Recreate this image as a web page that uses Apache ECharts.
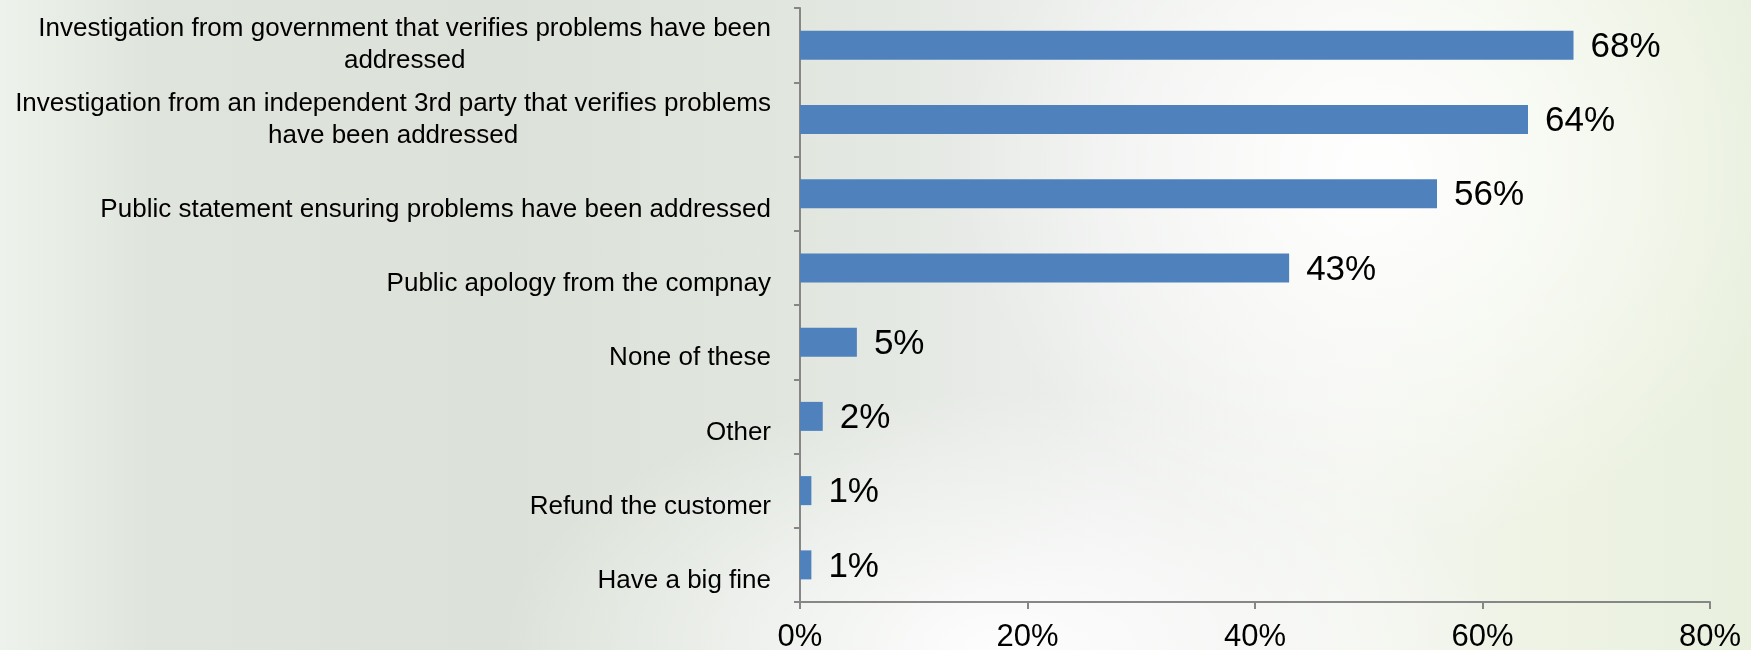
<!DOCTYPE html>
<html>
<head>
<meta charset="utf-8">
<script src="https://cdn.jsdelivr.net/npm/echarts@6/dist/echarts.min.js"></script>
<style>
html,body{margin:0;padding:0;}
#wrap{position:relative;width:1751px;height:650px;overflow:hidden;
background:
 radial-gradient(ellipse 420px 380px at 1380px 170px, rgba(255,255,255,0.95), rgba(255,255,255,0) 100%),
 radial-gradient(ellipse 500px 260px at 1000px 650px, rgba(255,255,255,0.9), rgba(255,255,255,0) 100%),
 linear-gradient(90deg, #eef2ec 0px, #dfe5dc 150px, #dce2d9 500px, #e1e6df 800px, #eceeec 1100px, #f3f5f0 1350px, #eef3e4 1550px, #e9f0de 1751px);
}
#chart{width:1751px;height:650px;}
</style>
</head>
<body>
<div id="wrap"><div id="chart"></div></div>
<script>
const categories = [
  "Investigation from government that verifies problems have been\naddressed",
  "Investigation from an independent 3rd party that verifies problems\nhave been addressed",
  "Public statement ensuring problems have been addressed",
  "Public apology from the compnay",
  "None of these",
  "Other",
  "Refund the customer",
  "Have a big fine"
];
const values = [68, 64, 56, 43, 5, 2, 1, 1];
const xTicks = [0, 20, 40, 60, 80];

const FONT = "'Liberation Sans', sans-serif";
const chart = echarts.init(document.getElementById('chart'), null, {renderer: 'canvas'});
chart.setOption({
  backgroundColor: 'transparent',
  animation: false,
  grid: {left: 800, right: 41, top: 8, bottom: 48, containLabel: false, outerBoundsMode: 'none'},
  xAxis: {
    type: 'value',
    min: xTicks[0], max: xTicks[xTicks.length - 1], interval: 20,
    axisLine: {show: true, lineStyle: {color: '#868686', width: 2}},
    axisTick: {show: true, length: 7, lineStyle: {color: '#868686', width: 2}},
    splitLine: {show: false},
    axisLabel: {formatter: v => v + '%', color: '#000', fontFamily: FONT, fontSize: 31, margin: 20}
  },
  yAxis: {
    type: 'category',
    inverse: true,
    data: categories,
    axisLine: {show: true, lineStyle: {color: '#868686', width: 2}},
    axisTick: {show: true, length: 6, lineStyle: {color: '#868686', width: 2}},
    axisLabel: {
      color: '#000', fontFamily: FONT, fontSize: 26, lineHeight: 32, margin: 29, align: 'right',
      formatter: v => v.indexOf('\n') >= 0 ? v.split('\n').map(s => '{c|' + s + '}').join('\n') : '\n' + v,
      rich: {c: {fontFamily: FONT, fontSize: 26, lineHeight: 32, align: 'center', color: '#000'}}
    }
  },
  series: [{
    type: 'bar',
    data: values,
    barWidth: 29,
    itemStyle: {color: '#4f81bd'},
    label: {show: true, position: 'right', distance: 17, formatter: p => p.value + '%',
      color: '#000', fontFamily: FONT, fontSize: 35, offset: [0, 2]}
  }]
});
</script>
</body>
</html>
